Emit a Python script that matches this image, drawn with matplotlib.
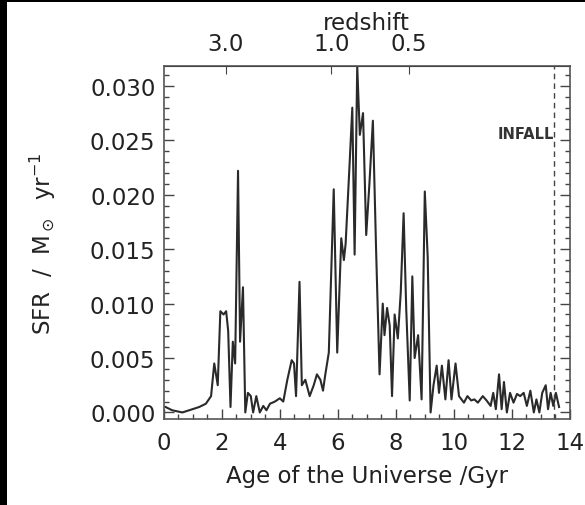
import numpy as np
import matplotlib
matplotlib.use('Agg')
import matplotlib.pyplot as plt
from matplotlib.patches import Rectangle
from matplotlib.ticker import MultipleLocator

plt.rcParams['font.family'] = ['DejaVu Sans']
plt.rcParams['mathtext.fontset'] = 'dejavusans'

# star formation history
age = [0.06, 0.29, 0.64, 0.99, 1.22, 1.45, 1.63, 1.74, 1.86, 1.95, 2.06, 2.15, 2.22,
       2.30, 2.38, 2.46, 2.56, 2.63, 2.73, 2.81, 2.90, 3.00, 3.08, 3.19, 3.31, 3.43,
       3.54, 3.66, 3.83, 4.00, 4.12, 4.26, 4.41, 4.49, 4.56, 4.68, 4.76, 4.88, 5.03,
       5.17, 5.28, 5.40, 5.49, 5.57, 5.69, 5.86, 5.98, 6.12, 6.21, 6.27, 6.41, 6.50,
       6.58, 6.67, 6.76, 6.87, 6.98, 7.09, 7.21, 7.32, 7.44, 7.55, 7.61, 7.70, 7.79,
       7.87, 7.96, 8.07, 8.17, 8.27, 8.36, 8.48, 8.57, 8.65, 8.77, 8.89, 9.00, 9.10,
       9.20, 9.30, 9.41, 9.49, 9.59, 9.71, 9.82, 9.92, 10.06, 10.18, 10.35, 10.47,
       10.60, 10.71, 10.83, 11.00, 11.13, 11.27, 11.36, 11.45, 11.56, 11.65, 11.73,
       11.83, 11.94, 12.06, 12.18, 12.29, 12.41, 12.52, 12.64, 12.76, 12.85, 12.95,
       13.05, 13.17, 13.25, 13.34, 13.43, 13.52, 13.63]
sfr = [0.0005, 0.0002, 0.0000, 0.0003, 0.0005, 0.0008, 0.0015, 0.0045, 0.0025, 0.0093,
       0.0090, 0.0093, 0.0075, 0.0005, 0.0065, 0.0045, 0.0222, 0.0065, 0.0115, 0.0000,
       0.0018, 0.0015, 0.0000, 0.0015, 0.0000, 0.0006, 0.0002, 0.0008, 0.0010, 0.0013,
       0.0010, 0.0030, 0.0048, 0.0045, 0.0015, 0.0120, 0.0025, 0.0030, 0.0015, 0.0025,
       0.0035, 0.0030, 0.0020, 0.0035, 0.0055, 0.0205, 0.0055, 0.0160, 0.0140, 0.0155,
       0.0230, 0.0280, 0.0145, 0.0318, 0.0255, 0.0275, 0.0163, 0.0210, 0.0268, 0.0150,
       0.0035, 0.0100, 0.0071, 0.0096, 0.0080, 0.0015, 0.0090, 0.0068, 0.0110, 0.0183,
       0.0095, 0.0011, 0.0125, 0.0050, 0.0071, 0.0012, 0.0203, 0.0143, 0.0000, 0.0025,
       0.0043, 0.0018, 0.0043, 0.0012, 0.0048, 0.0012, 0.0045, 0.0015, 0.0009, 0.0015,
       0.0011, 0.0012, 0.0009, 0.0015, 0.0011, 0.0006, 0.0018, 0.0003, 0.0035, 0.0003,
       0.0028, 0.0000, 0.0018, 0.0009, 0.0017, 0.0015, 0.0018, 0.0006, 0.0020, 0.0000,
       0.0012, 0.0000, 0.0018, 0.0025, 0.0003, 0.0018, 0.0006, 0.0018, 0.0005]

z_ticks = [3.0, 1.0, 0.5]
z_age = [2.13, 5.78, 8.45]   # age of universe at those redshifts
t_infall = 13.47

fs = 16.5
fig = plt.figure(figsize=(5.85, 5.06), dpi=100, facecolor='white')
ax = fig.add_axes([0.280, 0.170, 0.694, 0.697])
ax.set_facecolor('white')

ax.plot(age, sfr, color='#2a2a2a', lw=1.5)
ax.axvline(t_infall, color='#444444', lw=1.0, ls=(0, (4, 3)))
ax.text(t_infall, 0.0256, 'INFALL', ha='right', va='center', fontsize=10.5,
        fontweight='bold', color='#333333')

ax.set_xlim(0, 14)
ax.set_ylim(-0.0006, 0.0318)
ax.xaxis.set_major_locator(MultipleLocator(2))
ax.xaxis.set_minor_locator(MultipleLocator(0.5))
ax.yaxis.set_major_locator(MultipleLocator(0.005))
ax.yaxis.set_minor_locator(MultipleLocator(0.001))
ax.yaxis.set_major_formatter(lambda v, p: f'{v:.3f}')
ax.tick_params(which='both', direction='in', top=False, right=True, labelsize=fs,
               color='#444444', width=1.0, labelcolor='#222222')
ax.tick_params(which='major', length=7)
ax.tick_params(which='minor', length=3.5)
ax.tick_params(axis='x', pad=9)
ax.tick_params(axis='y', pad=6)

for s in ax.spines.values():
    s.set_color('#555555')
    s.set_linewidth(1.2)

ax.set_xlabel('Age of the Universe /Gyr', fontsize=fs, labelpad=7, color='#222222')
ax.set_ylabel(r'SFR  /  M$_\odot$  yr$^{-1}$', fontsize=fs, labelpad=23, color='#222222')

top = ax.secondary_xaxis('top')
top.set_xticks(z_age)
top.set_xticklabels([f'{z:.1f}' for z in z_ticks])
top.tick_params(direction='in', length=6, labelsize=fs, color='#444444', pad=8,
                labelcolor='#222222')
top.set_xlabel('redshift', fontsize=fs, labelpad=2, color='#222222')

# black strips at the image edge
fig.add_artist(Rectangle((0, 0), 7 / 585, 1, transform=fig.transFigure,
                         facecolor='black', edgecolor='none', zorder=10))
fig.add_artist(Rectangle((0, 1 - 3 / 506), 1, 3 / 506, transform=fig.transFigure,
                         facecolor='black', edgecolor='none', zorder=10))

fig.savefig('out.png', dpi=100, facecolor='white')
